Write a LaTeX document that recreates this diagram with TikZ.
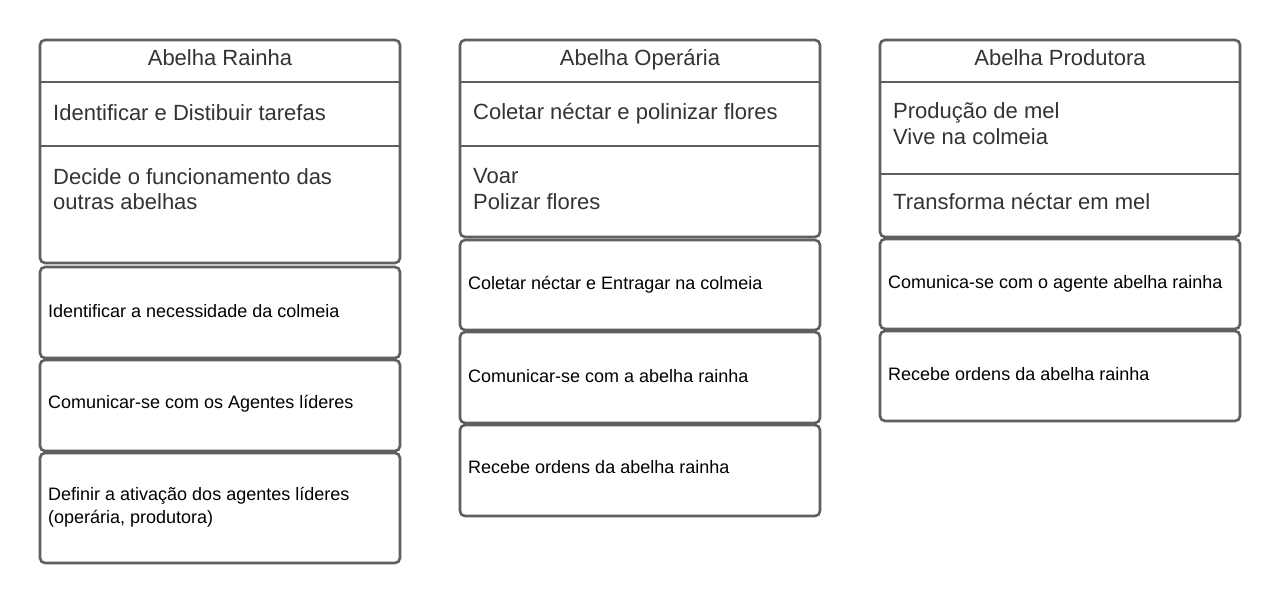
\documentclass[tikz,border=0pt]{standalone}
\usepackage{fontspec}
\setmainfont{Liberation Sans}
\definecolor{edge}{RGB}{95,95,95}
\definecolor{darktext}{RGB}{51,51,51}
\tikzset{
  card/.style={draw=edge, line width=2.6pt, rounded corners=5pt, fill=white},
  divider/.style={draw=edge, line width=2.6pt},
  headtxt/.style={anchor=base, inner sep=0pt, text=darktext, font=\fontsize{22}{26}\selectfont},
  bigtxt/.style={anchor=base west, inner sep=0pt, text=darktext, font=\fontsize{22}{26}\selectfont},
  smalltxt/.style={anchor=base west, inner sep=0pt, text=black, font=\fontsize{18}{22}\selectfont}
}
\begin{document}
\begin{tikzpicture}[x=1pt, y=-1pt]
\path[use as bounding box, fill=white] (0,0) rectangle (1280,604);

% ---------- Column 1: Abelha Rainha ----------
\draw[card] (40,40) rectangle (400,263);
\coordinate (r1) at (40,82);  \coordinate (r1e) at (400,82);
\coordinate (r2) at (40,146); \coordinate (r2e) at (400,146);
\draw[divider] (r1) -- (r1e);
\draw[divider] (r2) -- (r2e);
\node[headtxt] (rh) at (220,66) {Abelha Rainha};
\node[bigtxt] (ra) at (53,121) {Identificar e Distibuir tarefas};
\node[bigtxt] (rb1) at (53,185) {Decide o funcionamento das};
\node[bigtxt] (rb2) at (53,210) {outras abelhas};
\draw[card] (40,267) rectangle (400,358);
\node[smalltxt] (rc) at (48,317) {Identificar a necessidade da colmeia};
\draw[card] (40,360) rectangle (400,451);
\node[smalltxt] (rd) at (48,408) {Comunicar-se com os Agentes líderes};
\draw[card] (40,453) rectangle (400,563);
\node[smalltxt] (re1) at (48,500) {Definir a ativação dos agentes líderes};
\node[smalltxt] (re2) at (48,523) {(operária, produtora)};

% ---------- Column 2: Abelha Operaria ----------
\draw[card] (460,40) rectangle (820,237);
\coordinate (o1) at (460,82);  \coordinate (o1e) at (820,82);
\coordinate (o2) at (460,146); \coordinate (o2e) at (820,146);
\draw[divider] (o1) -- (o1e);
\draw[divider] (o2) -- (o2e);
\node[headtxt] (oh) at (640,66) {Abelha Operária};
\node[bigtxt] (oa) at (473,120) {Coletar néctar e polinizar flores};
\node[bigtxt] (ob1) at (473,184) {Voar};
\node[bigtxt] (ob2) at (473,210) {Polizar flores};
\draw[card] (460,240) rectangle (820,330);
\node[smalltxt] (oc) at (468,290) {Coletar néctar e Entragar na colmeia};
\draw[card] (460,332) rectangle (820,423);
\node[smalltxt] (od) at (468,382) {Comunicar-se com a abelha rainha};
\draw[card] (460,425) rectangle (820,516);
\node[smalltxt] (oe) at (468,473) {Recebe ordens da abelha rainha};

% ---------- Column 3: Abelha Produtora ----------
\draw[card] (880,40) rectangle (1240,237);
\coordinate (p1) at (880,82);  \coordinate (p1e) at (1240,82);
\coordinate (p2) at (880,174); \coordinate (p2e) at (1240,174);
\draw[divider] (p1) -- (p1e);
\draw[divider] (p2) -- (p2e);
\node[headtxt] (ph) at (1060,66) {Abelha Produtora};
\node[bigtxt] (pa1) at (893,119) {Produção de mel};
\node[bigtxt] (pa2) at (893,145) {Vive na colmeia};
\node[bigtxt] (pb) at (893,210) {Transforma néctar em mel};
\draw[card] (880,239) rectangle (1240,329);
\node[smalltxt] (pc) at (888,288) {Comunica-se com o agente abelha rainha};
\draw[card] (880,331) rectangle (1240,421);
\node[smalltxt] (pd) at (888,380) {Recebe ordens da abelha rainha};
\end{tikzpicture}
\end{document}
